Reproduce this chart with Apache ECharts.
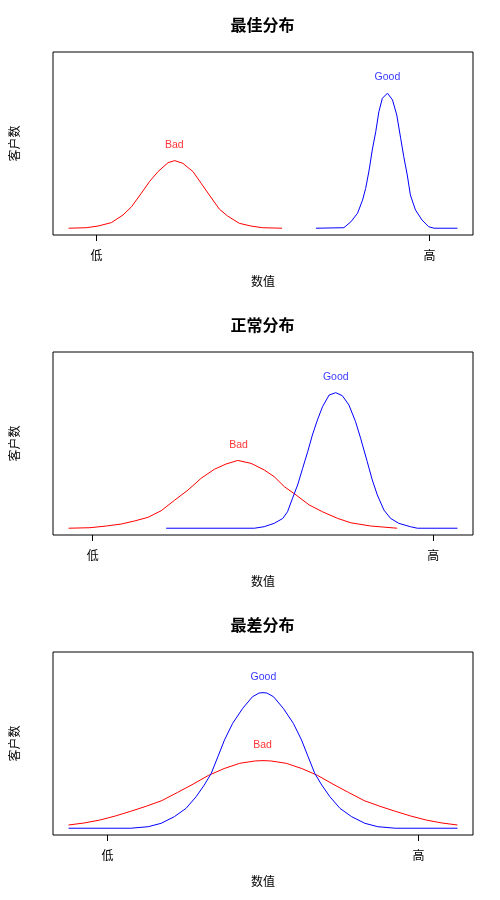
<!DOCTYPE html>
<html><head><meta charset="utf-8">
<script src="https://cdn.jsdelivr.net/npm/echarts@6/dist/echarts.min.js"></script>
<style>html,body{margin:0;padding:0;background:#fff}#c{width:500px;height:900px}</style>
</head><body><div id="c"></div><script>
// ---- data (x on a 0..100 scale, y = relative customer count) ----
const panelTitles = ['最佳分布', '正常分布', '最差分布'];
const xAxisName = '数值';
const yAxisName = '客户数';
const tickLabels = ['低', '高'];
const tickPos1 = [7.2, 92.8];
const tickPos2 = [6.2, 93.8];
const tickPos3 = [10, 90];

const bad1 = [[0,0],[4.6,0.003],[7.6,0.013],[11.0,0.033],[14.0,0.078],[16.2,0.127],[18.7,0.206],[20.8,0.275],[23.0,0.334],[25.6,0.387],[27.3,0.399],[29.4,0.383],[32.0,0.334],[34.1,0.265],[36.2,0.196],[38.8,0.112],[40.9,0.072],[43.9,0.029],[46.9,0.013],[49.9,0.003],[54.9,0]];
const good1 = [[63.6,0],[70.8,0.003],[72.6,0.038],[74.3,0.088],[75.6,0.166],[76.4,0.235],[77.3,0.344],[78.1,0.462],[79.0,0.570],[79.8,0.688],[80.7,0.767],[82.0,0.797],[83.3,0.757],[84.4,0.668],[85.4,0.531],[86.2,0.422],[87.1,0.314],[87.9,0.196],[89.2,0.108],[90.9,0.048],[92.6,0.009],[94,0],[100,0]];

const bad2 = [[0,0],[5.5,0.003],[9.7,0.013],[13.6,0.025],[17.0,0.043],[20.4,0.064],[23.8,0.103],[27.3,0.166],[30.7,0.225],[34.1,0.295],[37.5,0.348],[40.5,0.379],[43.5,0.400],[46.9,0.383],[50.3,0.344],[52.9,0.304],[55.5,0.245],[58.5,0.196],[61.9,0.137],[65.3,0.097],[69.2,0.058],[72.6,0.032],[77.7,0.013],[84.5,0]];
const good2 = [[25.1,0],[47.8,0],[50.3,0.009],[52.9,0.029],[55.1,0.058],[56.3,0.097],[57.6,0.177],[58.9,0.255],[60.2,0.354],[61.5,0.452],[62.7,0.550],[64.0,0.639],[65.3,0.717],[67.0,0.786],[68.7,0.800],[70.4,0.782],[72.1,0.727],[73.8,0.629],[75.1,0.531],[76.8,0.393],[78.1,0.285],[79.4,0.196],[81.1,0.107],[82.8,0.058],[84.9,0.029],[87.9,0.009],[89.7,0],[100,0]];

const bad3 = [[0,0.019],[4,0.031],[8,0.048],[12,0.072],[16,0.100],[20,0.130],[24,0.163],[28,0.211],[32,0.260],[36,0.312],[40,0.352],[44,0.383],[48,0.397],[50,0.399],[52,0.397],[56,0.383],[60,0.352],[64,0.312],[68,0.260],[72,0.211],[76,0.163],[80,0.130],[84,0.100],[88,0.072],[92,0.048],[96,0.031],[100,0.019]];
const good3 = [[0,0],[16,0],[20.5,0.009],[23.8,0.029],[27.2,0.068],[30.2,0.117],[32.8,0.186],[34.9,0.255],[36.7,0.324],[38.4,0.422],[40.1,0.521],[42.2,0.619],[44.8,0.708],[47.3,0.776],[49,0.798],[50,0.800],[51,0.798],[52.7,0.776],[55.2,0.708],[57.8,0.619],[59.9,0.521],[61.6,0.422],[63.3,0.324],[65.1,0.255],[67.2,0.186],[69.8,0.117],[72.8,0.068],[76.2,0.029],[79.5,0.009],[84,0],[100,0]];

const badLabel = [[27.2,0.49],[43.7,0.49],[49.9,0.49]];
const goodLabel = [[82,0.894],[68.7,0.894],[50.1,0.894]];

// ---- build chart ----
const badSeries = [bad1, bad2, bad3];
const goodSeries = [good1, good2, good3];
const tickSets = [tickPos1, tickPos2, tickPos3];
const RED = '#ff0000', BLUE = '#0000ff';
const CJK = '"Noto Sans CJK SC", sans-serif';

const grids = [], xAxes = [], yAxes = [], titles = [], series = [];
for (let i = 0; i < 3; i++) {
  const top = 52 + i * 300;
  grids.push({left: 52, top: top, width: 421, height: 183, show: true, borderColor: '#000', borderWidth: 1, backgroundColor: 'transparent'});
  titles.push({text: panelTitles[i], left: 257.5, top: top - 40, textAlign: 'center',
    textStyle: {fontFamily: CJK, fontSize: 16, fontWeight: 'bold', color: '#000'}});
  const ticks = tickSets[i];
  xAxes.push({type: 'value', gridIndex: i, min: -4, max: 104,
    axisLine: {show: false, onZero: false}, splitLine: {show: false},
    axisTick: {show: true, inside: false, customValues: ticks, length: 6, lineStyle: {color: '#000', width: 1}},
    axisLabel: {show: true, customValues: ticks, margin: 14, fontFamily: CJK, fontSize: 12, color: '#000',
      formatter: (v) => (v === ticks[0] ? tickLabels[0] : tickLabels[1])},
    name: xAxisName, nameLocation: 'middle', nameGap: 40,
    nameTextStyle: {fontFamily: CJK, fontSize: 12, color: '#000'}});
  yAxes.push({type: 'value', gridIndex: i, min: -0.04, max: 1.04,
    axisLine: {show: false, onZero: false}, axisTick: {show: false}, axisLabel: {show: false}, splitLine: {show: false},
    name: yAxisName, nameLocation: 'middle', nameGap: 33, nameRotate: 90,
    nameTextStyle: {fontFamily: CJK, fontSize: 12, color: '#000'}});
  series.push({type: 'line', xAxisIndex: i, yAxisIndex: i, data: badSeries[i], showSymbol: false, symbol: 'none',
    lineStyle: {color: RED, width: 1}, itemStyle: {color: RED}, animation: false});
  series.push({type: 'line', xAxisIndex: i, yAxisIndex: i, data: goodSeries[i], showSymbol: false, symbol: 'none',
    lineStyle: {color: BLUE, width: 1}, itemStyle: {color: BLUE}, animation: false});
  series.push({type: 'scatter', xAxisIndex: i, yAxisIndex: i, symbolSize: 0, animation: false,
    data: [{value: badLabel[i], name: 'Bad', label: {color: RED}}, {value: goodLabel[i], name: 'Good', label: {color: BLUE}}],
    label: {show: true, position: 'inside', formatter: (p) => p.name, fontFamily: 'Liberation Sans, Arial, sans-serif', fontSize: 10.5}});
}

const chart = echarts.init(document.getElementById('c'), null, {renderer: 'canvas'});
chart.setOption({animation: false, backgroundColor: '#fff', title: titles, grid: grids, xAxis: xAxes, yAxis: yAxes, series: series});
</script></body></html>
